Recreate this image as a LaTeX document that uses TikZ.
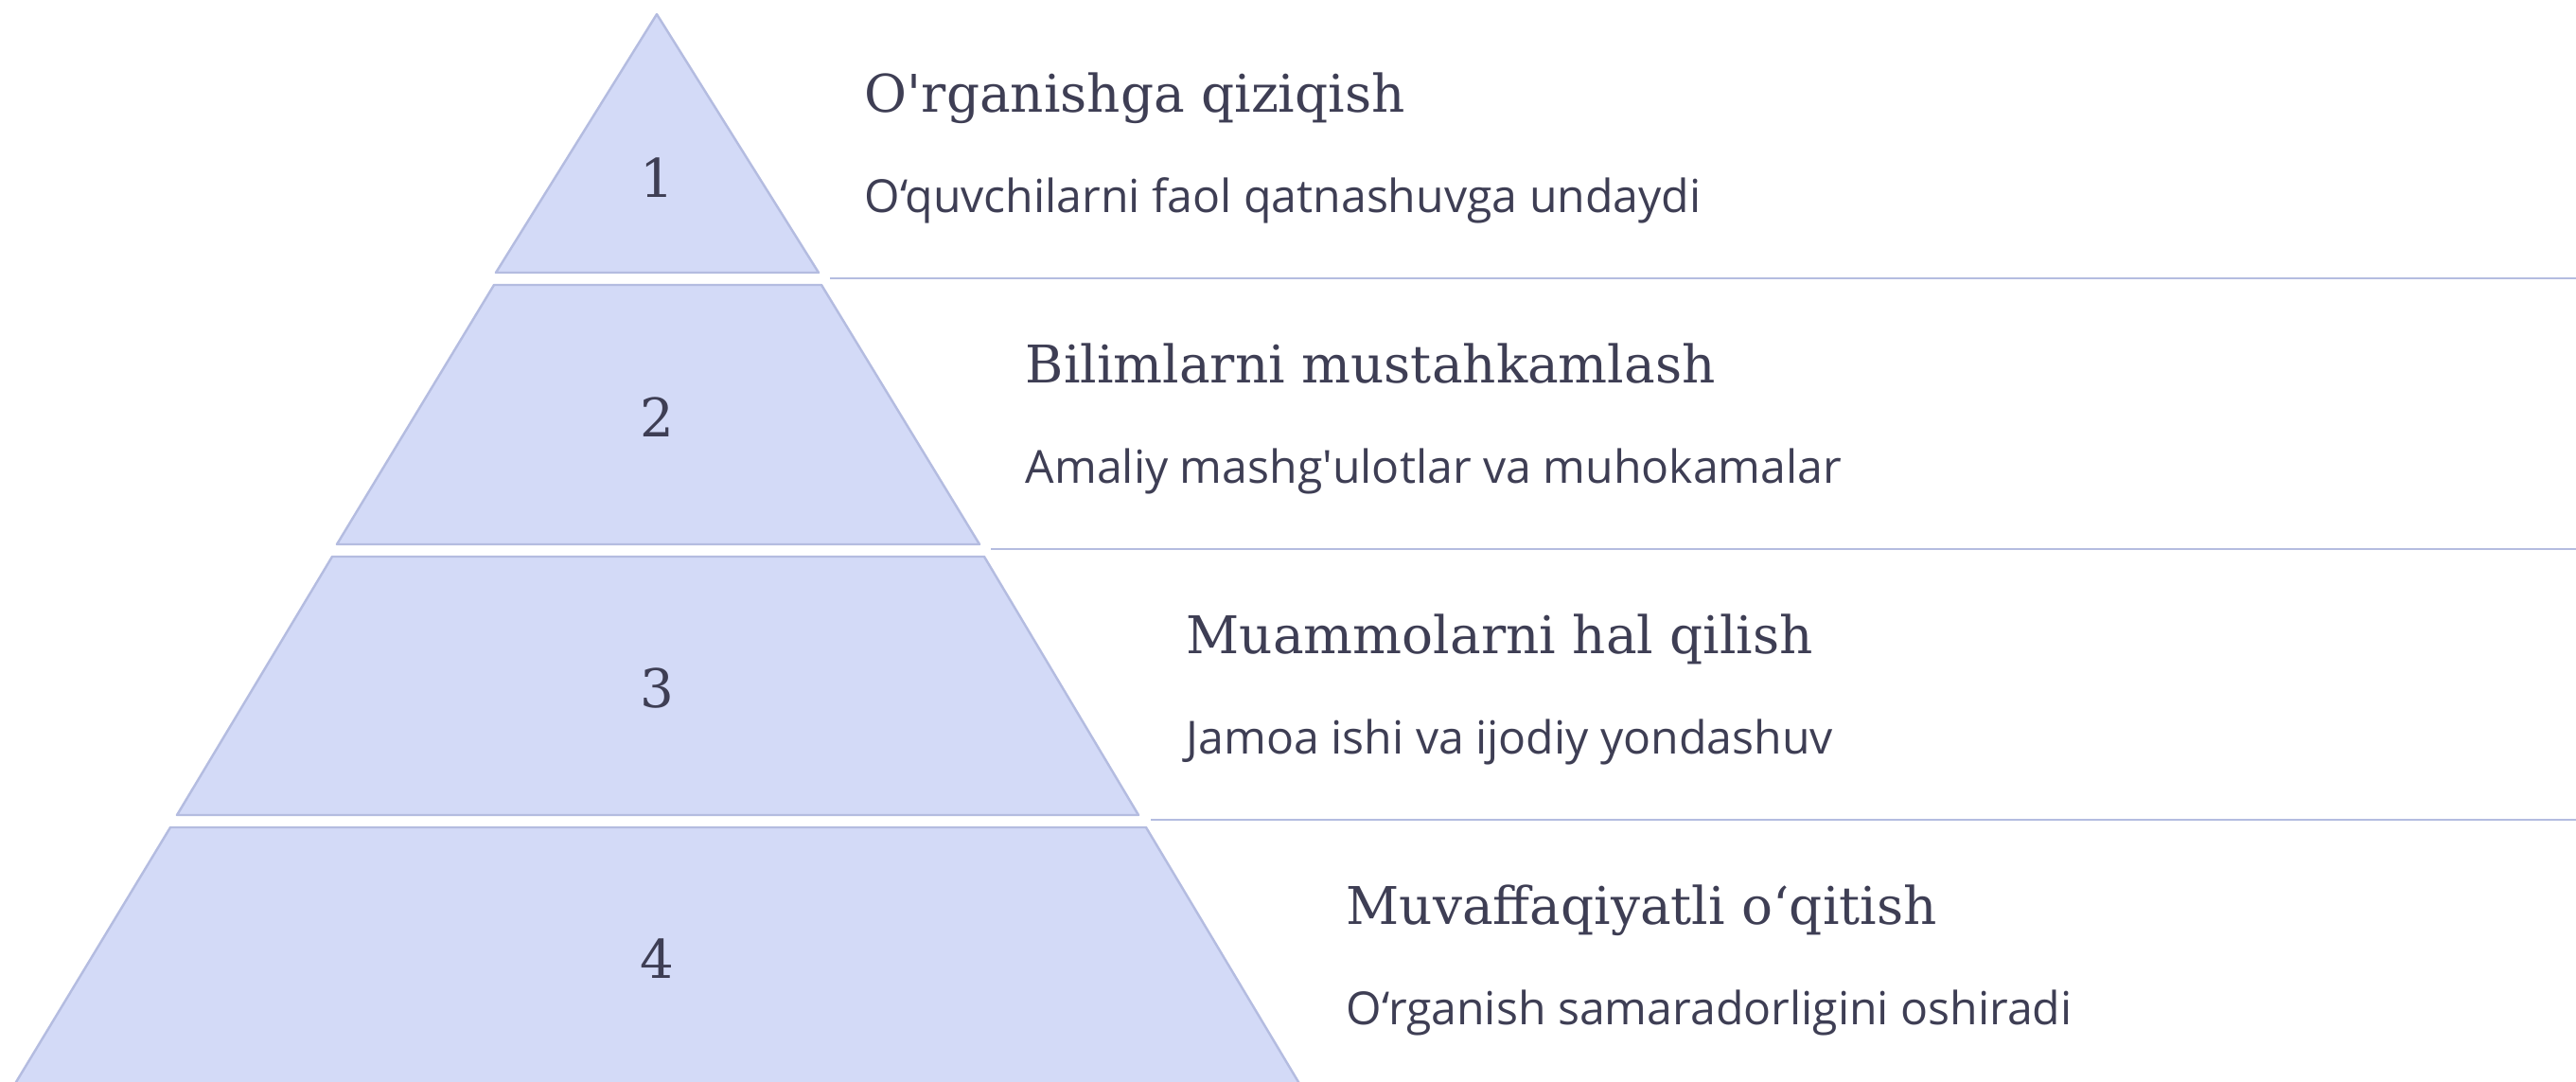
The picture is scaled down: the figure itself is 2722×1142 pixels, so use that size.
\documentclass[tikz,border=0pt]{standalone}
\usepackage{fontspec}
\setmainfont{DejaVu Serif}
\setsansfont{Open Sans}
\usepackage{tikz}

\definecolor{bandfill}{RGB}{211,218,247}
\definecolor{bandedge}{RGB}{180,188,224}
\definecolor{ink}{RGB}{62,62,84}

\begin{document}
\begin{tikzpicture}[x=0.01cm, y=-0.01cm,
    band/.style={fill=bandfill, draw=bandedge, line width=0.7pt, line join=round},
    num/.style={anchor=base, text=ink, inner sep=0pt, font=\fontsize{16}{18}\selectfont},
    title/.style={anchor=base west, text=ink, inner sep=0pt, font=\fontsize{15.6}{18}\selectfont},
    sub/.style={anchor=base west, text=ink, inner sep=0pt, font=\sffamily\fontsize{13.7}{16}\selectfont},
    sep/.style={draw=bandedge, line width=0.8pt}]
    \useasboundingbox (0,0) rectangle (2722,1142);

    % pyramid bands
    \draw[band] (694,15) -- (865,288) -- (524,288) -- cycle;
    \draw[band] (522,301) -- (868,301) -- (1035,575) -- (356,575) -- cycle;
    \draw[band] (351,588) -- (1040,588) -- (1203,861) -- (187,861) -- cycle;
    \draw[band] (180,874) -- (1211,874) -- (1375,1148) -- (14,1148) -- cycle;

    \node[num] (n1) at (694,208) {1};
    \node[num] (n2) at (694,461) {2};
    \node[num] (n3) at (694,747) {3};
    \node[num] (n4) at (694,1033) {4};

    % separators
    \coordinate (a1) at (877,294);  \coordinate (b1) at (2722,294);
    \coordinate (a2) at (1047,580); \coordinate (b2) at (2722,580);
    \coordinate (a3) at (1216,866); \coordinate (b3) at (2722,866);
    \draw[sep] (a1) -- (b1);
    \draw[sep] (a2) -- (b2);
    \draw[sep] (a3) -- (b3);

    % labels
    \node[title] (t1) at (913,118) {O\textquotesingle rganishga qiziqish};
    \node[sub] (s1) at (913,224) {O‘quvchilarni faol qatnashuvga undaydi};
    \node[title] (t2) at (1083,404) {Bilimlarni mustahkamlash};
    \node[sub] (s2) at (1083,510) {Amaliy mashg\textquotesingle ulotlar va muhokamalar};
    \node[title] (t3) at (1253,690) {Muammolarni hal qilish};
    \node[sub] (s3) at (1253,796) {Jamoa ishi va ijodiy yondashuv};
    \node[title] (t4) at (1422,976) {Muvaffaqiyatli o‘qitish};
    \node[sub] (s4) at (1422,1082) {O‘rganish samaradorligini oshiradi};
\end{tikzpicture}
\end{document}
